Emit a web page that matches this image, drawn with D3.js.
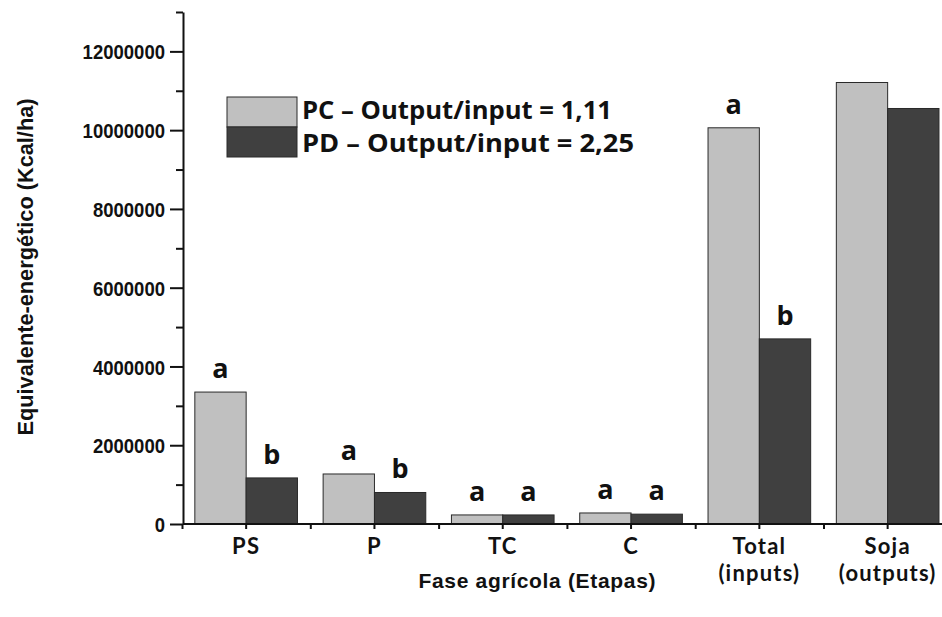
<!DOCTYPE html>
<html>
<head>
<meta charset="utf-8">
<script src="https://cdn.jsdelivr.net/npm/d3@7"></script>
<style>
  body { margin: 0; background: #fff; }
  svg { display: block; }
</style>
</head>
<body>
<svg id="chart" width="942" height="617"></svg>
<script>
// Energy equivalent per agricultural phase, conventional (PC) vs direct (PD) planting
const categories = ["PS", "P", "TC", "C", "Total (inputs)", "Soja (outputs)"];
const categoryLines = [["PS"], ["P"], ["TC"], ["C"], ["Total", "(inputs)"], ["Soja", "(outputs)"]];
const seriesKeys = ["PC", "PD"];
const seriesLabels = ["PC – Output/input = 1,11", "PD – Output/input = 2,25"];
const pcValues = [3350000, 1270000, 230000, 280000, 10060000, 11210000];
const pdValues = [1170000, 800000, 230000, 250000, 4700000, 10550000];
const pcLetters = ["a", "a", "a", "a", "a", ""];
const pdLetters = ["b", "b", "a", "a", "b", ""];
const yMajorTicks = [0, 2000000, 4000000, 6000000, 8000000, 10000000, 12000000];
const yMinorTicks = [1000000, 3000000, 5000000, 7000000, 9000000, 11000000, 13000000];
const yMax = 13000000;
const yTitle = "Equivalente-energético (Kcal/ha)";
const xTitle = "Fase agrícola (Etapas)";

const fills = { PC: "#c0c0c0", PD: "#404040" };
const ink = "#111";

const svg = d3.select("#chart");

const axisX = 183, baseY = 524, topY = 12;
const step = 128.3;
const x0 = d3.scaleBand()
  .domain(categories)
  .range([182, 182 + step * categories.length])
  .paddingInner(0.2)
  .paddingOuter(0.1);
const x1 = d3.scaleBand().domain(seriesKeys).range([0, x0.bandwidth()]);
const y = d3.scaleLinear().domain([0, yMax]).range([baseY, topY]);
// index scale to put tick marks on the group boundaries
const xBounds = d3.scaleLinear().domain([0, categories.length]).range(x0.range());

const rows = categories.map((c, i) => ({
  cat: c,
  bars: [
    { key: "PC", value: pcValues[i], letter: pcLetters[i] },
    { key: "PD", value: pdValues[i], letter: pdLetters[i] }
  ]
}));

// bars
const groups = svg.append("g").selectAll("g")
  .data(rows)
  .join("g")
  .attr("transform", d => `translate(${x0(d.cat)},0)`);

groups.selectAll("rect")
  .data(d => d.bars)
  .join("rect")
  .attr("x", d => x1(d.key))
  .attr("y", d => y(d.value))
  .attr("width", x1.bandwidth())
  .attr("height", d => y(0) - y(d.value))
  .attr("fill", d => fills[d.key])
  .attr("stroke", "#2a2a2a")
  .attr("stroke-width", 1);

// significance letters
groups.selectAll("text.letter")
  .data(d => d.bars.filter(b => b.letter))
  .join("text")
  .attr("class", "letter")
  .attr("x", d => x1(d.key) + x1.bandwidth() / 2)
  .attr("y", d => y(d.value) - 14)
  .attr("text-anchor", "middle")
  .attr("font-family", "'Open Sans', sans-serif")
  .attr("font-weight", 700)
  .attr("font-size", 27)
  .attr("fill", ink)
  .text(d => d.letter);

// y axis: major ticks with labels, minor ticks between
const yAxis = svg.append("g")
  .attr("transform", `translate(${axisX},0)`)
  .call(d3.axisLeft(y).tickValues(yMajorTicks).tickSize(13).tickSizeOuter(0)
    .tickPadding(5).tickFormat(d3.format("d")));
const yMinor = svg.append("g")
  .attr("transform", `translate(${axisX},0)`)
  .call(d3.axisLeft(y).tickValues(yMinorTicks).tickSize(7).tickFormat(""));
yMinor.select(".domain").remove();

yAxis.selectAll("text")
  .attr("font-family", "'Liberation Sans', Arial, sans-serif")
  .attr("font-weight", 700)
  .attr("font-size", 21)
  .attr("dy", "0.36em")
  .attr("fill", ink)
  .attr("lengthAdjust", "spacingAndGlyphs")
  .attr("textLength", function() { return this.textContent.length * 10.3; });

// x axis: ticks at group centres and group boundaries
const xAxis = svg.append("g")
  .attr("transform", `translate(0,${baseY})`)
  .call(d3.axisBottom(x0).tickSize(5).tickSizeOuter(0));
xAxis.selectAll(".tick text").remove();
xAxis.select(".domain").attr("d", `M${axisX},0H942`);
const xBoundAxis = svg.append("g")
  .attr("transform", `translate(0,${baseY})`)
  .call(d3.axisBottom(xBounds).ticks(categories.length).tickSize(5).tickFormat(""));
xBoundAxis.select(".domain").remove();

svg.selectAll(".domain, .tick line")
  .attr("stroke", ink)
  .attr("stroke-width", 2);

// category labels (some on two lines)
xAxis.selectAll(".tick")
  .each(function(d) {
    const lines = categoryLines[categories.indexOf(d)];
    d3.select(this).selectAll("text.cat")
      .data(lines)
      .join("text")
      .attr("class", "cat")
      .attr("x", 0)
      .attr("y", (l, i) => 30 + i * 26.5)
      .attr("text-anchor", "middle")
      .attr("font-family", "Lato, sans-serif")
      .attr("font-weight", 700)
      .attr("font-size", 22)
      .attr("letter-spacing", 1.2)
      .attr("fill", ink)
      .text(l => l);
  });

// axis titles
svg.append("text")
  .attr("transform", `translate(33,267) rotate(-90)`)
  .attr("text-anchor", "middle")
  .attr("font-family", "'Liberation Sans', Arial, sans-serif")
  .attr("font-weight", 700)
  .attr("font-size", 22)
  .attr("lengthAdjust", "spacingAndGlyphs")
  .attr("textLength", 337)
  .attr("fill", ink)
  .text(yTitle);

svg.append("text")
  .attr("x", 537)
  .attr("y", 588)
  .attr("text-anchor", "middle")
  .attr("font-family", "'Liberation Sans', Arial, sans-serif")
  .attr("font-weight", 700)
  .attr("font-size", 21)
  .attr("lengthAdjust", "spacing")
  .attr("textLength", 237)
  .attr("fill", ink)
  .text(xTitle);

// legend
const legend = svg.append("g").attr("transform", "translate(227,97)");
const legendItems = legend.selectAll("g")
  .data(seriesKeys.map((k, i) => ({ key: k, label: seriesLabels[i] })))
  .join("g")
  .attr("transform", (d, i) => `translate(0,${i * 30})`);
legendItems.append("rect")
  .attr("width", 70)
  .attr("height", 30)
  .attr("fill", d => fills[d.key])
  .attr("stroke", "#2a2a2a")
  .attr("stroke-width", 1);
legendItems.append("text")
  .attr("x", 75)
  .attr("y", (d, i) => i === 0 ? 22 : 25)
  .attr("font-family", "'Open Sans', sans-serif")
  .attr("font-weight", 700)
  .attr("font-size", 25)
  .attr("lengthAdjust", "spacingAndGlyphs")
  .attr("textLength", (d, i) => i === 0 ? 310 : 332)
  .attr("fill", ink)
  .text(d => d.label);
</script>
</body>
</html>
